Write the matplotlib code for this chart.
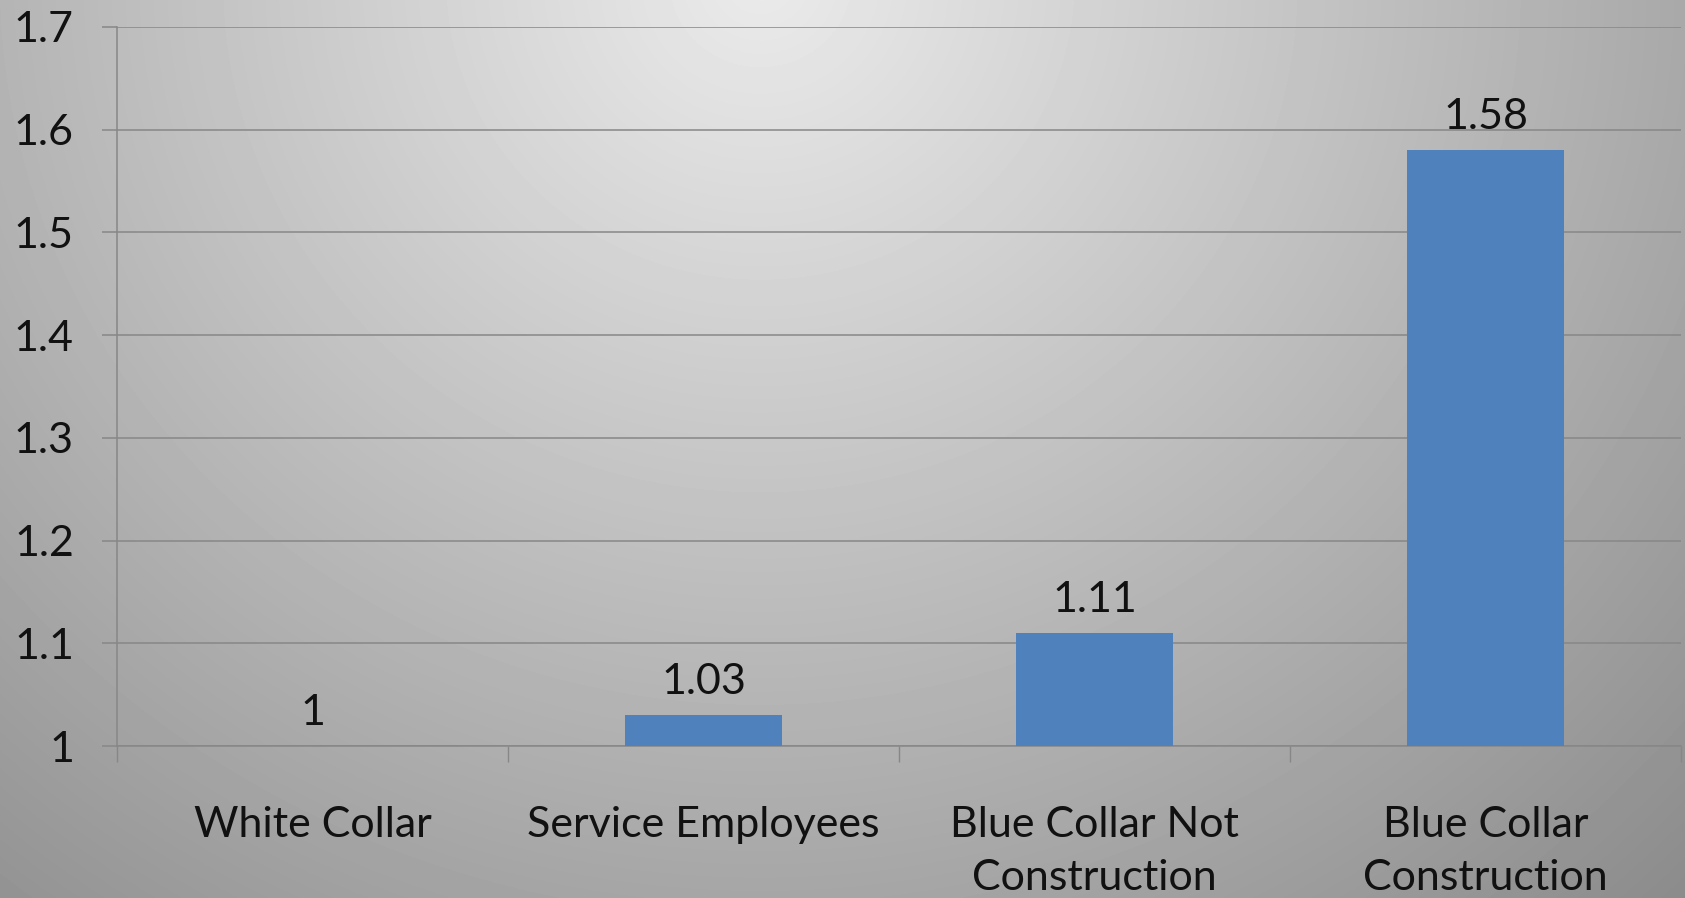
import matplotlib
matplotlib.use('Agg')
import matplotlib.pyplot as plt
import numpy as np
from matplotlib.ticker import FuncFormatter

categories = ["White Collar", "Service Employees", "Blue Collar Not\nConstruction", "Blue Collar\nConstruction"]
ratios = [1.00, 1.03, 1.11, 1.58]
ratio_labels = ["1", "1.03", "1.11", "1.58"]
y_ticks = [1.0, 1.1, 1.2, 1.3, 1.4, 1.5, 1.6, 1.7]

bar_color = '#4f81bd'
grid_color = '#878787'
font = 'Lato'
fsize = 31

W, H = 1685, 898
fig = plt.figure(figsize=(W / 100, H / 100), dpi=100)

# grey radial backdrop, bright near the top middle
bg = fig.add_axes([0, 0, 1, 1], zorder=0)
yy, xx = np.mgrid[0:H, 0:W]
dist = np.hypot(xx - 760, (yy + 20) * 1.05)
shade = np.clip(0.92 - dist * 0.00028, 0.5, 1.0)
bg.imshow(shade, cmap='gray', vmin=0, vmax=1, aspect='auto', interpolation='bilinear')
bg.axis('off')

ax = fig.add_axes([117 / W, 1 - 746 / H, 1564 / W, 719 / H], zorder=1)
ax.patch.set_alpha(0)

x = np.arange(len(categories))
bars = ax.bar(x, ratios, width=0.4, color=bar_color, zorder=3)
for rect, lab in zip(bars, ratio_labels):
    ax.annotate(lab, (rect.get_x() + rect.get_width() / 2, rect.get_height()),
                xytext=(0, 10), textcoords='offset points', ha='center', va='bottom',
                fontsize=fsize, family=font, color='#111111', annotation_clip=False)

ax.set_xlim(-0.5, len(categories) - 0.5)
ax.set_ylim(1.0, 1.7)
ax.set_yticks(y_ticks)
ax.yaxis.set_major_formatter(FuncFormatter(lambda v, p: f'{v:g}'))
ax.yaxis.grid(True, color=grid_color, linewidth=1.1, zorder=1)
ax.set_axisbelow(True)

ax.set_xticks(x)
ax.set_xticklabels(categories, fontsize=fsize, family=font, color='#111111', linespacing=1.5)
ax.set_xticks(np.arange(-0.5, len(categories)), minor=True)
ax.tick_params(axis='x', which='major', length=0, pad=43)
ax.tick_params(axis='x', which='minor', length=11.5, width=1, color=grid_color, direction='out')
ax.tick_params(axis='y', length=11, width=1.1, color=grid_color, pad=20, labelsize=fsize, labelcolor='#111111')
for t in ax.get_yticklabels():
    t.set_family(font)

for side in ['top', 'right']:
    ax.spines[side].set_visible(False)
ax.spines['left'].set_color(grid_color)
ax.spines['bottom'].set_color(grid_color)
ax.spines['left'].set_linewidth(1.1)
ax.spines['bottom'].set_linewidth(1.1)

fig.savefig('out.png', dpi=100)
